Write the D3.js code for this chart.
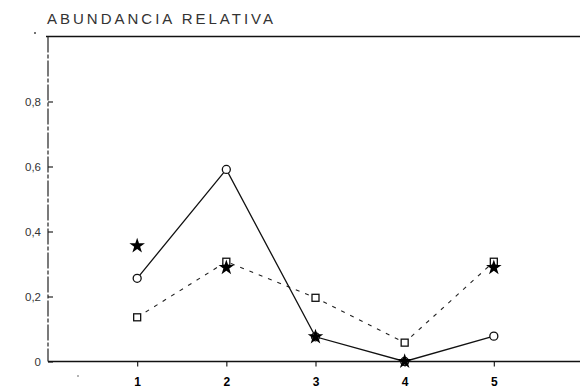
<!DOCTYPE html>
<html><head><meta charset="utf-8">
<script src="https://cdn.jsdelivr.net/npm/d3@7"></script>
<style>body{margin:0;background:#fff}svg{display:block}</style>
</head><body>
<script>
const categories = [1, 2, 3, 4, 5];
const circleSeries = [0.256, 0.591, 0.076, 0.0, 0.078];
const squareSeries = [0.136, 0.307, 0.196, 0.058, 0.307];
const starSeries   = [0.356, 0.289, 0.076, 0.0, 0.289];
const yTicks = [0, 0.2, 0.4, 0.6, 0.8];
const yTickLabels = ["0", "0,2", "0,4", "0,6", "0,8"];
const title = "ABUNDANCIA RELATIVA";

const W = 580, H = 390;
const svg = d3.select("body").append("svg").attr("width", W).attr("height", H);
const x = d3.scaleLinear().domain([0, 6]).range([48, 583]);
const y = d3.scaleLinear().domain([0, 1]).range([361.5, 36.5]);

// title
svg.append("text").attr("x", 47).attr("y", 24).text(title)
  .attr("font-family", "Liberation Sans, Arial, sans-serif").attr("font-size", 15)
  .attr("letter-spacing", 3).attr("fill", "#333");

// top frame line
svg.append("line").attr("x1", 46).attr("x2", 580).attr("y1", y(1)).attr("y2", y(1))
  .attr("stroke", "#111").attr("stroke-width", 1.3);
svg.append("circle").attr("cx", 35).attr("cy", 33).attr("r", 1).attr("fill", "#444");

// y axis
const yAxis = d3.axisRight(y).tickValues(yTicks).tickSize(5).tickFormat(() => "");
const gy = svg.append("g").attr("transform", `translate(${x(0)},0)`).call(yAxis);
gy.select(".domain").remove();
gy.selectAll(".tick line").attr("stroke", "#222").attr("stroke-width", 1.2);
svg.append("line").attr("x1", x(0)).attr("x2", x(0)).attr("y1", y(1)).attr("y2", y(0))
  .attr("stroke", "#222").attr("stroke-width", 1.2).attr("stroke-dasharray", "16,2,4,2");
svg.selectAll(".ylab").data(yTicks).join("text").attr("class", "ylab")
  .attr("x", 41).attr("y", d => y(d)).attr("dy", "0.35em").attr("text-anchor", "end")
  .text((d, i) => yTickLabels[i])
  .attr("font-family", "Liberation Sans, Arial, sans-serif").attr("font-size", 11.5).attr("fill", "#333");

// x axis
const xAxis = d3.axisBottom(x).tickValues(categories).tickSize(5).tickFormat(d => d);
const gx = svg.append("g").attr("transform", `translate(0,${y(0)})`).call(xAxis);
gx.select(".domain").remove();
svg.append("line").attr("x1", x(0)).attr("x2", 580).attr("y1", y(0)).attr("y2", y(0))
  .attr("stroke", "#111").attr("stroke-width", 1.4);
gx.selectAll(".tick line").attr("stroke", "#222").attr("stroke-width", 1.2);
gx.selectAll(".tick text").attr("y", 16).attr("font-family", "Liberation Sans, Arial, sans-serif")
  .attr("font-size", 12).attr("font-weight", "bold").attr("fill", "#000");
svg.append("circle").attr("cx", 78).attr("cy", 376).attr("r", 0.8).attr("fill", "#555");

const line = d3.line().x((d, i) => x(categories[i])).y(d => y(d));

// dashed square series line
svg.append("path").datum(squareSeries).attr("d", line).attr("fill", "none")
  .attr("stroke", "#222").attr("stroke-width", 1.1).attr("stroke-dasharray", "4,6");
// solid circle series line
svg.append("path").datum(circleSeries).attr("d", line).attr("fill", "none")
  .attr("stroke", "#111").attr("stroke-width", 1.3);

// circles
svg.selectAll(".circ").data(circleSeries).join("circle").attr("class", "circ")
  .attr("cx", (d, i) => x(categories[i])).attr("cy", d => y(d)).attr("r", 4)
  .attr("fill", "#fff").attr("stroke", "#111").attr("stroke-width", 1.3);
// squares
svg.selectAll(".sq").data(squareSeries).join("rect").attr("class", "sq")
  .attr("x", (d, i) => x(categories[i]) - 3.5).attr("y", d => y(d) - 3.5)
  .attr("width", 7).attr("height", 7)
  .attr("fill", "#fff").attr("stroke", "#111").attr("stroke-width", 1.3);
// stars
const star = d3.symbol().type(d3.symbolStar).size(75);
svg.selectAll(".star").data(starSeries).join("path").attr("class", "star")
  .attr("transform", (d, i) => `translate(${x(categories[i])},${y(d)})`)
  .attr("d", star).attr("fill", "#000");
</script>
</body></html>
